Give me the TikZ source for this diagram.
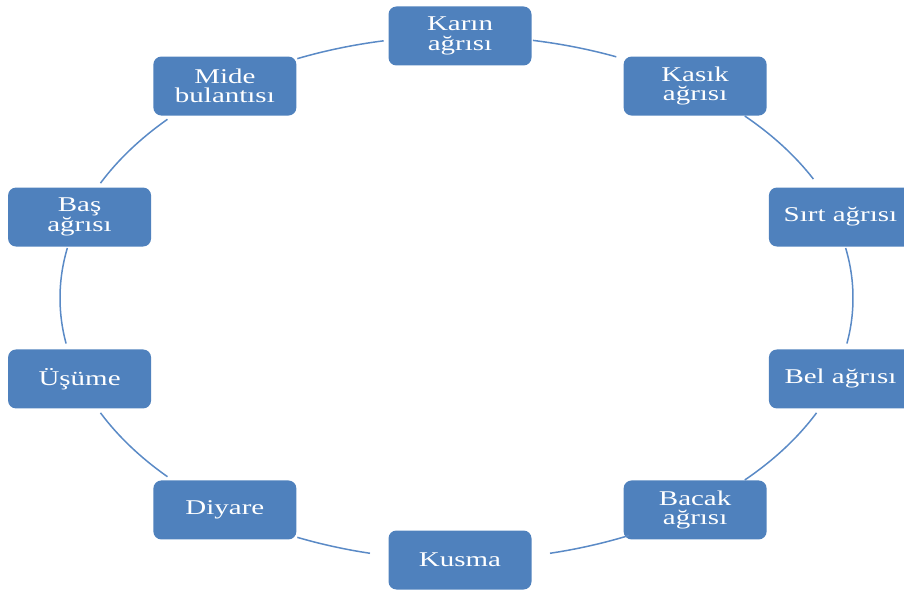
\documentclass[tikz,border=0pt]{standalone}
\usepackage{fontspec}
\newfontfamily\boxfont[FakeStretch=1.38]{Liberation Serif}
\definecolor{boxblue}{HTML}{4F81BD}
\definecolor{arcblue}{HTML}{5A8AC6}
\begin{document}
\begin{tikzpicture}[x=1pt,y=1pt,
  symptom/.style={rectangle, rounded corners=8pt, fill=boxblue, text=white,
    minimum width=143pt, minimum height=59pt, align=center, inner sep=0pt,
    font=\boxfont\fontsize{21}{19.5}\selectfont},
  cyc/.style={draw=arcblue, line width=1.5pt}]
\useasboundingbox (0,0) rectangle (904,592);
\clip (0,0) rectangle (904,592);
\coordinate (C) at (460,294);
\coordinate (CR) at (453,294);
\coordinate (CM) at (457,294);
% nodes
\node[symptom] (karin)  at ([shift={(90:400 and 262)}]C)   {Karın\\ağrısı};
\node[symptom] (kasik)  at ([shift={(54:400 and 262)}]C)   {Kasık\\ağrısı};
\node[symptom] (sirt)   at ([shift={(18:400 and 262)}]C)   {Sırt ağrısı};
\node[symptom] (bel)    at ([shift={(-18:400 and 262)}]C)  {Bel ağrısı};
\node[symptom] (bacak)  at ([shift={(-54:400 and 262)}]C)  {Bacak\\ağrısı};
\node[symptom] (kusma)  at ([shift={(-90:400 and 262)}]C)  {Kusma};
\node[symptom] (diyare) at ([shift={(-126:400 and 262)}]C) {Diyare};
\node[symptom] (usume)  at ([shift={(-162:400 and 262)}]C) {Üşüme};
\node[symptom] (bas)    at ([shift={(162:400 and 262)}]C)  {Baş\\ağrısı};
\node[symptom] (mide)   at ([shift={(126:400 and 262)}]C)  {Mide\\bulantısı};
% cycle arcs
\draw[cyc] ([shift={(79.5:400 and 262)}]C) arc[start angle=79.5, end angle=67, x radius=400, y radius=262];
\draw[cyc] ([shift={(44:400 and 262)}]CM) arc[start angle=44, end angle=27, x radius=400, y radius=262];
\draw[cyc] ([shift={(11:400 and 262)}]CR) arc[start angle=11, end angle=-10, x radius=400, y radius=262];
\draw[cyc] ([shift={(-26:400 and 262)}]CM) arc[start angle=-26, end angle=-44, x radius=400, y radius=262];
\draw[cyc] ([shift={(-65:400 and 262)}]C) arc[start angle=-65, end angle=-77, x radius=400, y radius=262];
\draw[cyc] ([shift={(-103:400 and 262)}]C) arc[start angle=-103, end angle=-114, x radius=400, y radius=262];
\draw[cyc] ([shift={(-137:400 and 262)}]C) arc[start angle=-137, end angle=-154, x radius=400, y radius=262];
\draw[cyc] ([shift={(190:400 and 262)}]C) arc[start angle=190, end angle=169, x radius=400, y radius=262];
\draw[cyc] ([shift={(154:400 and 262)}]C) arc[start angle=154, end angle=137, x radius=400, y radius=262];
\draw[cyc] ([shift={(114:400 and 262)}]C) arc[start angle=114, end angle=101, x radius=400, y radius=262];
\end{tikzpicture}
\end{document}
